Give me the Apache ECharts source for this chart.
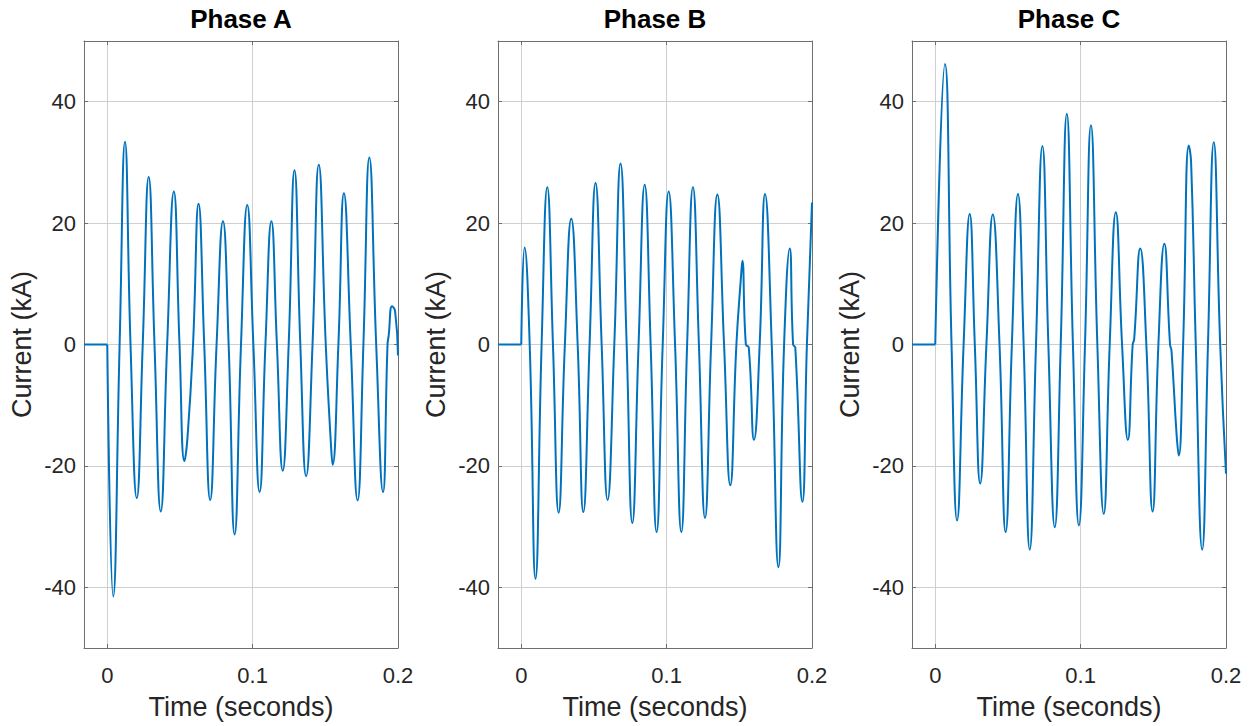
<!DOCTYPE html>
<html>
<head>
<meta charset="utf-8">
<script src="https://cdn.jsdelivr.net/npm/echarts@6/dist/echarts.min.js"></script>
<style>
html,body{margin:0;padding:0;background:#fff;}
#chart{width:1254px;height:726px;}
</style>
</head>
<body>
<div id="chart"></div>
<script>
// ---- Data (time in seconds, current in kA) ----
const titles = ['Phase A', 'Phase B', 'Phase C'];
const xTickLabels = ['0', '0.1', '0.2'];
const yTickLabels = ['-40', '-20', '0', '20', '40'];

const timeA = [-0.016, 0, 0.0041, 0.0085, 0.0122, 0.0160, 0.0203, 0.0244, 0.0285, 0.0325, 0.0368, 0.0412, 0.0458, 0.0497, 0.0531, 0.0552, 0.0590, 0.0628, 0.0667, 0.0708, 0.0752, 0.0796, 0.0835, 0.0876, 0.0920, 0.0963, 0.1005, 0.1048, 0.1088, 0.1129, 0.1167, 0.1207, 0.1248, 0.1288, 0.1328, 0.1368, 0.1412, 0.1455, 0.1503, 0.1540, 0.1550, 0.1590, 0.1628, 0.1675, 0.1722, 0.1762, 0.1803, 0.1850, 0.1897, 0.1928, 0.1936, 0.1959, 0.1980, 0.2000];
const currentA = [0, 0, -41.5, 0, 33.4, 0, -25.3, 0, 27.6, 0, -27.5, 0, 25.2, 0, -19.2, -15.3, 0, 23.2, 0, -25.6, 0, 20.3, 0, -31.3, 0, 23.0, 0, -24.3, 0, 20.3, 0, -20.8, 0, 28.7, 0, -21.7, 0, 29.6, 0, -17.0, -19.8, 0, 24.9, 0, -25.7, 0, 30.8, 0, -24.3, 0, 1.5, 6.3, 5.5, -1.8];

const timeB = [-0.016, 0, 0.0023, 0.0058, 0.0098, 0.0140, 0.0179, 0.0218, 0.0257, 0.0300, 0.0344, 0.0388, 0.0427, 0.0470, 0.0511, 0.0553, 0.0594, 0.0640, 0.0683, 0.0725, 0.0764, 0.0807, 0.0849, 0.0890, 0.0931, 0.0973, 0.1014, 0.1058, 0.1101, 0.1141, 0.1181, 0.1222, 0.1264, 0.1306, 0.1349, 0.1395, 0.1438, 0.1480, 0.1512, 0.1521, 0.1545, 0.1565, 0.1601, 0.1640, 0.1677, 0.1723, 0.1769, 0.1808, 0.1847, 0.1870, 0.1885, 0.1934, 0.1965, 0.2000];
const currentB = [0, 0, 16.0, 0, -38.6, 0, 25.9, 0, -27.7, 0, 20.7, 0, -27.6, 0, 26.6, 0, -25.6, 0, 29.8, 0, -29.4, 0, 26.3, 0, -30.9, 0, 25.2, 0, -30.9, 0, 25.9, 0, -28.6, 0, 24.7, 0, -23.2, 0, 11.3, 13.8, 0, -0.5, -15.7, 0, 24.8, 0, -36.7, 0, 15.8, 0, -0.5, -25.9, 0, 23.4];

const timeC = [-0.016, 0, 0.0067, 0.0112, 0.0150, 0.0195, 0.0237, 0.0272, 0.0309, 0.0352, 0.0396, 0.0442, 0.0484, 0.0527, 0.0569, 0.0608, 0.0650, 0.0693, 0.0737, 0.0778, 0.0822, 0.0863, 0.0905, 0.0947, 0.0988, 0.1030, 0.1071, 0.1115, 0.1159, 0.1200, 0.1242, 0.1285, 0.1325, 0.1358, 0.1368, 0.1410, 0.1452, 0.1495, 0.1535, 0.1576, 0.1615, 0.1625, 0.1660, 0.1675, 0.1705, 0.1744, 0.1760, 0.1792, 0.1836, 0.1876, 0.1916, 0.1960, 0.2000];
const currentC = [0, 0, 46.2, 0, -29.0, 0, 21.5, 0, -22.9, 0, 21.4, 0, -30.9, 0, 24.8, 0, -33.8, 0, 32.7, 0, -30.1, 0, 38.0, 0, -29.8, 0, 36.1, 0, -27.9, 0, 21.8, 0, -15.7, 0, 0.8, 15.8, 0, -27.5, 0, 16.6, 0, -1.0, -14.8, -18.3, 0, 32.8, 30.0, 0, -33.8, 0, 33.3, 0, -21.3];

const phases = [[timeA, currentA], [timeB, currentB], [timeC, currentC]];
const faultStartIndex = 1; // index of t = 0 in each time array

// ---- Layout ----
const gridLefts = [84, 498, 912];
const gridWidth = 314;
const gridTop = 41;
const gridHeight = 607;
const boxColor = '#6e6e6e';
const gridColor = '#cfcfcf';
const textColor = '#262626';
const font = 'Liberation Sans';

const chart = echarts.init(document.getElementById('chart'), null, {renderer: 'svg'});

const grids = [], xAxes = [], yAxes = [], series = [], graphics = [];
phases.forEach(([t, c], i) => {
  grids.push({left: gridLefts[i], top: gridTop, width: gridWidth, height: gridHeight, containLabel: false});
  const xBase = {
    type: 'value', gridIndex: i, min: -0.016, max: 0.2, splitNumber: 2,
    minInterval: 0.1, maxInterval: 0.1,
    axisLine: {show: true, onZero: false, lineStyle: {color: boxColor, width: 1}},
    axisTick: {show: true, inside: true, length: 4, lineStyle: {color: boxColor}},
  };
  const yBase = {
    type: 'value', gridIndex: i, min: -50, max: 50, splitNumber: 5,
    minInterval: 20, maxInterval: 20,
    axisLine: {show: true, onZero: false, lineStyle: {color: boxColor, width: 1}},
    axisTick: {show: true, inside: true, length: 4, lineStyle: {color: boxColor}},
  };
  xAxes.push(Object.assign({}, xBase, {
    position: 'bottom',
    name: 'Time (seconds)', nameLocation: 'middle', nameGap: 45,
    nameTextStyle: {fontFamily: font, fontSize: 27, color: textColor},
    axisLabel: {
      show: true, margin: 16, fontFamily: font, fontSize: 22, color: textColor,
      showMinLabel: false,
      formatter: v => { const s = String(Math.round(v * 10) / 10); return xTickLabels.includes(s) ? s : ''; }
    },
    splitLine: {show: true, lineStyle: {color: gridColor, width: 1}}
  }));
  xAxes.push(Object.assign({}, xBase, {
    position: 'top', axisLabel: {show: false}, splitLine: {show: false}
  }));
  yAxes.push(Object.assign({}, yBase, {
    position: 'left',
    name: 'Current (kA)', nameLocation: 'middle', nameGap: 49,
    nameTextStyle: {fontFamily: font, fontSize: 27, color: textColor},
    axisLabel: {
      show: true, margin: 8, fontFamily: font, fontSize: 22, color: textColor,
      showMinLabel: false, showMaxLabel: false,
      formatter: v => { const s = String(v); return yTickLabels.includes(s) ? s : ''; }
    },
    splitLine: {show: true, lineStyle: {color: gridColor, width: 1}}
  }));
  yAxes.push(Object.assign({}, yBase, {
    position: 'right', axisLabel: {show: false}, splitLine: {show: false}
  }));
  const pts = t.map((tv, k) => [tv, c[k]]);
  const lineStyle = {color: '#0072BD', width: 2};
  // pre-fault flat segment (straight)
  series.push({
    type: 'line', xAxisIndex: 2 * i, yAxisIndex: 2 * i,
    data: pts.slice(0, faultStartIndex + 1),
    showSymbol: false, symbol: 'none', smooth: false,
    lineStyle: lineStyle, animation: false, silent: true
  });
  // fault current waveform
  series.push({
    type: 'line', xAxisIndex: 2 * i, yAxisIndex: 2 * i,
    data: pts.slice(faultStartIndex),
    showSymbol: false, symbol: 'none', smooth: 0.5,
    lineStyle: lineStyle, animation: false, silent: true
  });
  graphics.push({
    type: 'text', x: gridLefts[i] + gridWidth / 2, y: 19,
    style: {text: titles[i], fill: '#000', font: 'bold 26px "Liberation Sans"', align: 'center', verticalAlign: 'middle'}
  });
});

chart.setOption({
  backgroundColor: '#ffffff',
  animation: false,
  grid: grids,
  xAxis: xAxes,
  yAxis: yAxes,
  series: series,
  graphic: graphics
});
</script>
</body>
</html>
